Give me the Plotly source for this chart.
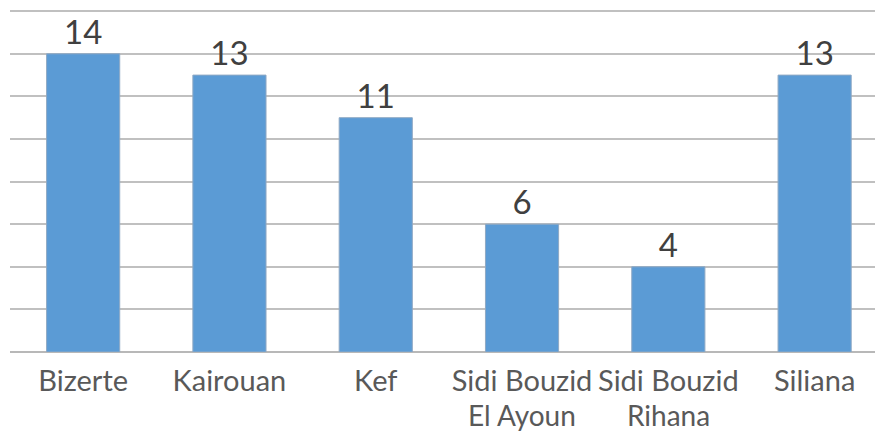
import plotly.graph_objects as go

categories = ["Bizerte", "Kairouan", "Kef", "Sidi Bouzid\nEl Ayoun", "Sidi Bouzid\nRihana", "Siliana"]
values = [14, 13, 11, 6, 4, 13]

first_lines = [c.split("\n")[0] for c in categories]
second_lines = [c.split("\n")[1] if "\n" in c else "" for c in categories]
xpos = list(range(len(categories)))

fig = go.Figure(go.Bar(
    x=xpos,
    y=values,
    text=[str(v) for v in values],
    textposition="outside",
    textfont=dict(family="Lato", size=33, color="#404040"),
    marker=dict(color="#5B9BD5", line=dict(color="#8fa9c4", width=1)),
    cliponaxis=False,
))

for xi, t in zip(xpos, second_lines):
    if t:
        fig.add_annotation(
            x=xi, y=0, xref="x", yref="paper", text=t, showarrow=False,
            yanchor="top", yshift=-45, borderpad=0,
            font=dict(family="Lato", size=28, color="#595959"),
        )

fig.update_layout(
    width=883, height=436,
    margin=dict(l=2, r=0, t=0, b=92),
    paper_bgcolor="white", plot_bgcolor="white",
    bargap=0.5,
    showlegend=False,
)
fig.update_xaxes(
    range=[-0.5, 5.522],
    tickvals=xpos,
    ticktext=first_lines,
    tickangle=0,
    automargin=False,
    ticklabelstandoff=9,
    tickfont=dict(family="Lato", size=29, color="#595959"),
    showgrid=False, showline=False, zeroline=False, ticks="",
)
fig.update_yaxes(
    range=[0, 16.15], dtick=2,
    showticklabels=False,
    automargin=False,
    showgrid=True, gridcolor="#c0c0c0", gridwidth=2,
    zeroline=True, zerolinecolor="#b8b8b8", zerolinewidth=2,
    showline=False,
)
fig.write_html("out.html")
